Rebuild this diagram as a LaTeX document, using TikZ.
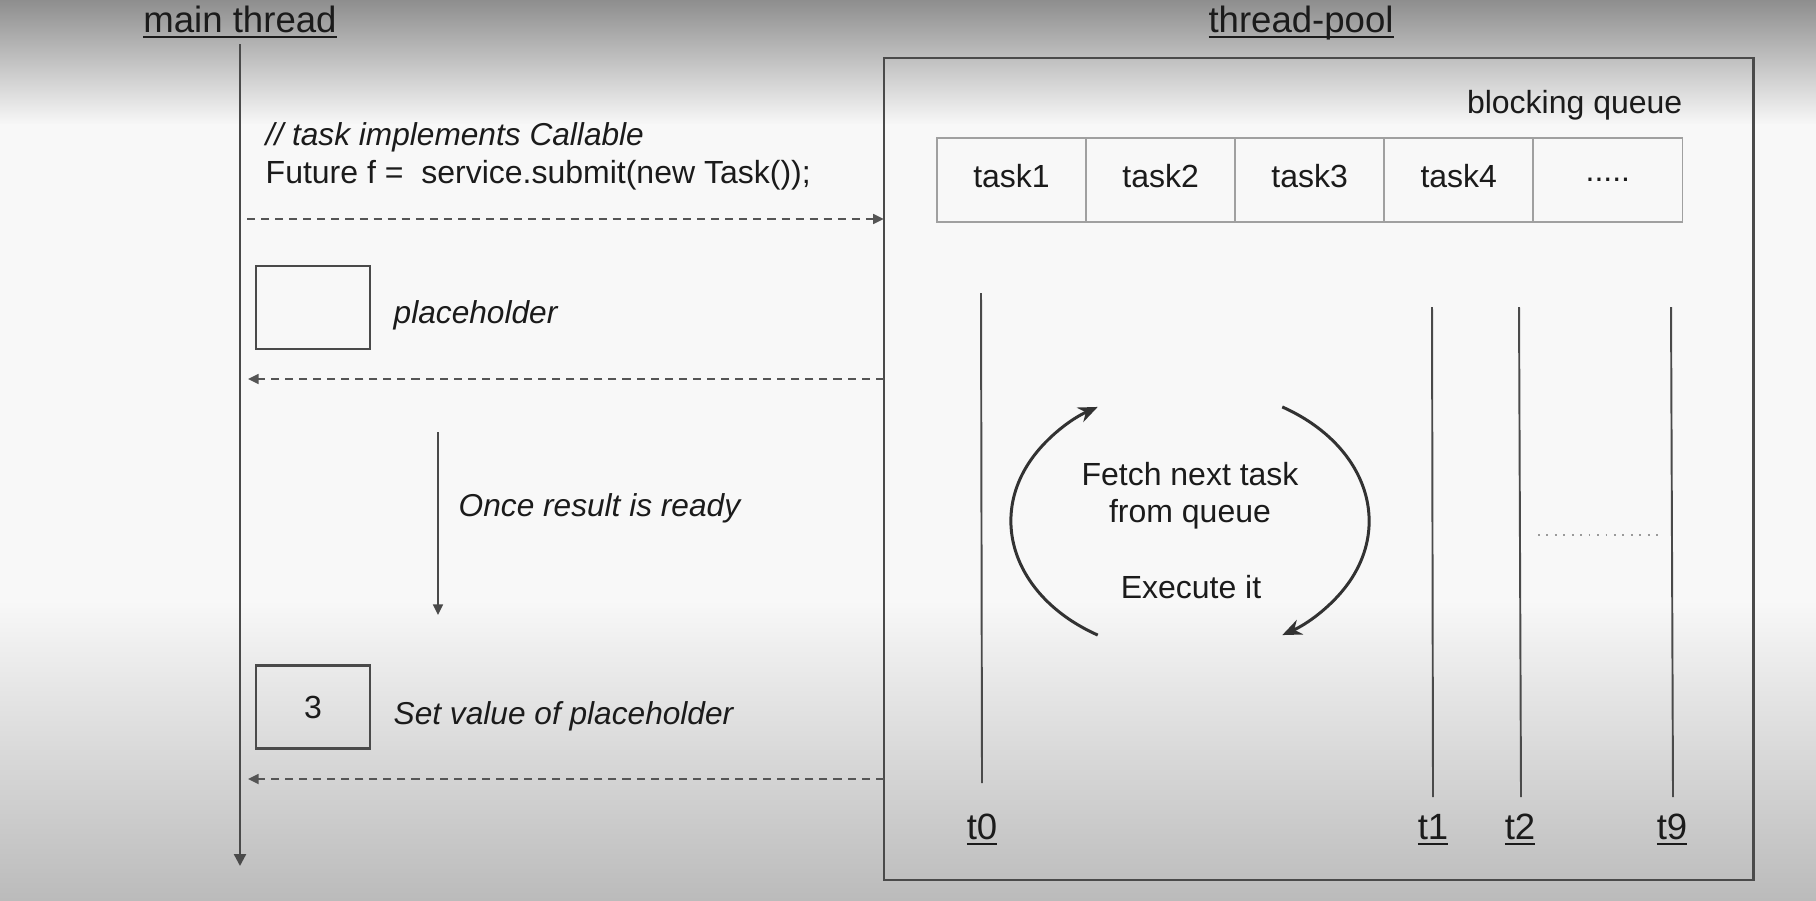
\documentclass[tikz,border=0pt]{standalone}
\usepackage{fontspec}
\setmainfont{Liberation Sans}
\usetikzlibrary{arrows.meta,positioning}

\definecolor{bgtop}{HTML}{8E8E8E}
\definecolor{bgmid}{HTML}{F8F8F8}
\definecolor{bgbot}{HTML}{BBBBBB}
\definecolor{ink}{HTML}{1B1B1B}
\definecolor{linegray}{HTML}{4A4A4A}
\definecolor{cellgray}{HTML}{A0A0A0}
\definecolor{msggray}{HTML}{555555}
\definecolor{dotgray}{HTML}{9A9A9A}

\newcommand{\undl}[1]{\underline{\smash{#1}}}

\tikzset{
  header/.style={font=\fontsize{10.4}{12}\selectfont, inner sep=0pt},
  note/.style={inner sep=0pt, font=\fontsize{9.0}{10.6}\selectfont\itshape},
  plain/.style={inner sep=0pt},
  poolbox/.style={draw=linegray, line width=0.7pt, minimum width=8.69cm, minimum height=8.22cm, inner sep=0pt, outer sep=0pt},
  cell/.style={draw=cellgray, line width=0.5pt, minimum width=1.49cm, minimum height=0.84cm, inner sep=0pt, outer sep=0pt, text depth=2.6pt},
  holder/.style={draw=linegray, line width=0.6pt, minimum width=1.14cm, minimum height=0.83cm, inner sep=0pt},
  thread/.style={draw=linegray, line width=0.55pt},
  msg/.style={draw=msggray, line width=0.6pt, dash pattern=on 2.3pt off 1.7pt, -{Triangle[length=3pt,width=2.8pt]}},
  wait/.style={draw=linegray, line width=0.55pt, -{Triangle[length=3pt,width=2.8pt]}},
  cyclearc/.style={draw=ink!90, line width=0.85pt, -{Stealth[length=5.5pt,width=4.5pt]}},
}

\begin{document}
\begin{tikzpicture}[x=0.01cm, y=0.01cm, every node/.style={text=ink, font=\fontsize{9.1}{10.6}\selectfont}]
  \useasboundingbox (0,0) rectangle (1816,-900);
  % background
  \fill[top color=bgtop, bottom color=bgmid] (0,0) rectangle (1816,-125);
  \fill[bgmid] (0,-124) rectangle (1816,-601);
  \fill[top color=bgmid, bottom color=bgbot] (0,-600) rectangle (1816,-900);

  % main thread side
  \node[header, anchor=base] (mainlbl) at (240,-32) {\undl{main thread}};
  \coordinate (mtop) at (240,-44);
  \coordinate (mend) at (240,-866);
  \draw[linegray, line width=0.65pt, -{Triangle[length=3.4pt,width=3.4pt]}] (mtop) -- (mend);

  \node[note, anchor=base west] (cmt) at (265,-145) {// task implements Callable};
  \node[plain, anchor=base west] (call) at (265,-183) {Future f =\ \ service.submit(new Task());};

  \node[holder] (ph) at (313,-307.5) {};
  \node[note, anchor=base west] (phlbl) at (393,-323) {placeholder};

  \coordinate (w1) at (438,-432);
  \coordinate (w2) at (438,-615);
  \draw[wait] (w1) -- (w2);
  \node[note, anchor=base west] (ready) at (458,-516) {Once result is ready};

  \node[holder] (val) at (313,-707) {3};
  \node[note, anchor=base west] (vallbl) at (393,-724) {Set value of placeholder};

  % thread pool side
  \node[header, anchor=base] (poollbl) at (1301,-32) {\undl{thread-pool}};
  \node[poolbox] (pool) at (1318.5,-469) {};
  \node[plain, anchor=base east] (bqlbl) at (1683,-113) {blocking queue};

  \node[cell] (task1) at (1011.5,-180) {task1};
  \node[cell, right=0pt of task1] (task2) {task2};
  \node[cell, right=0pt of task2] (task3) {task3};
  \node[cell, right=0pt of task3] (task4) {task4};
  \node[cell, text depth=0pt, right=0pt of task4] (more) {.....};

  % messages between the two
  \coordinate (m1) at (247,-219);
  \coordinate (m2) at (248,-379);
  \coordinate (m3) at (248,-779);
  \draw[msg] (m1) -- (m1 -| pool.west);
  \draw[msg] (m2 -| pool.west) -- (m2);
  \draw[msg] (m3 -| pool.west) -- (m3);

  % worker threads
  \coordinate (t0top) at (981,-293);
  \coordinate (t0bot) at (982,-783);
  \coordinate (t1top) at (1432,-307);
  \coordinate (t1bot) at (1433,-797);
  \coordinate (t2top) at (1519,-307);
  \coordinate (t2bot) at (1521,-797);
  \coordinate (t9top) at (1671,-307);
  \coordinate (t9bot) at (1673,-797);
  \draw[thread] (t0top) -- (t0bot);
  \draw[thread] (t1top) -- (t1bot);
  \draw[thread] (t2top) -- (t2bot);
  \draw[thread] (t9top) -- (t9bot);
  \node[header, anchor=base] (t0) at (982,-839) {\undl{t0}};
  \node[header, anchor=base] (t1) at (1433,-839) {\undl{t1}};
  \node[header, anchor=base] (t2) at (1520,-839) {\undl{t2}};
  \node[header, anchor=base] (t9) at (1672,-839) {\undl{t9}};
  \draw[dotgray, line width=0.6pt, dash pattern=on 0.5pt off 1.9pt] (1538,-535) -- (1659,-535);

  % fetch / execute cycle
  \coordinate (loopc) at (1190,-521);
  \draw[cyclearc] ([shift={(239:1.79cm and 1.33cm)}]loopc) arc[start angle=239, end angle=121, x radius=1.79cm, y radius=1.33cm];
  \draw[cyclearc] ([shift={(59:1.79cm and 1.33cm)}]loopc) arc[start angle=59, end angle=-59, x radius=1.79cm, y radius=1.33cm];
  \node[align=center] (fetch) at (1190,-496) {Fetch next task\\from queue};
  \node[anchor=base] (exec) at (1191,-598) {Execute it};
\end{tikzpicture}
\end{document}
